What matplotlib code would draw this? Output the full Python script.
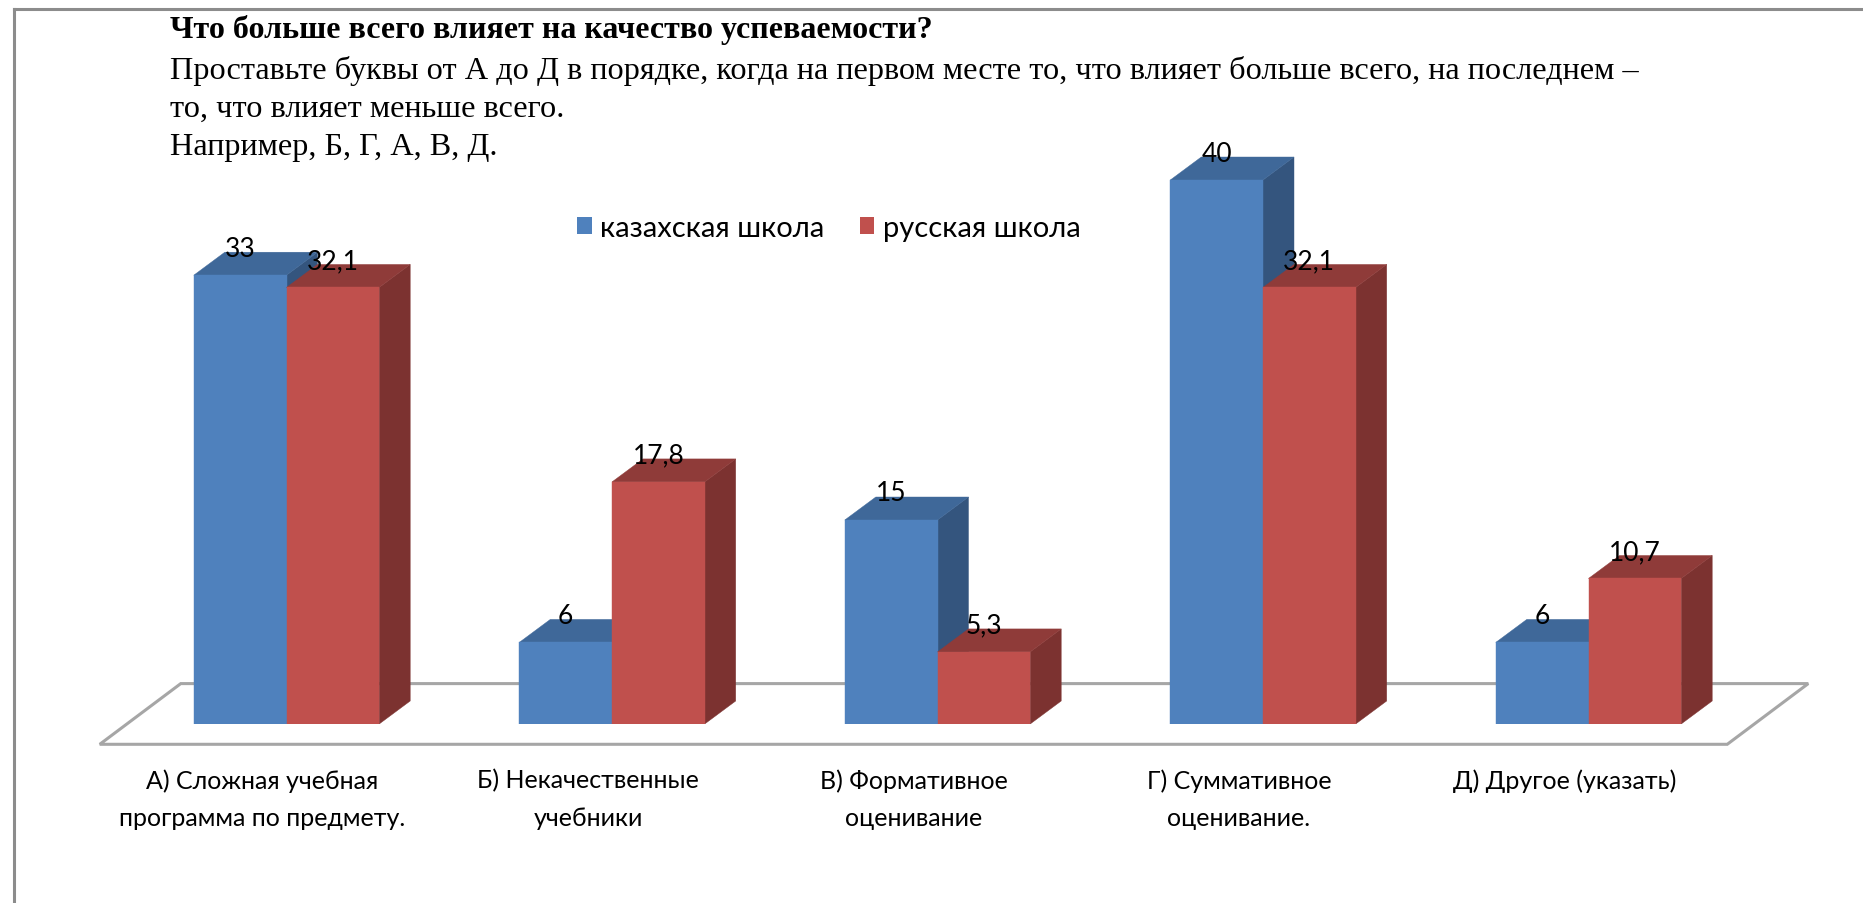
import matplotlib
matplotlib.use("Agg")
import matplotlib.pyplot as plt
from matplotlib.patches import Polygon, Patch
from matplotlib.lines import Line2D

# ---- data ----
categories = [
    "А) Сложная учебная\nпрограмма по предмету.",
    "Б) Некачественные\nучебники",
    "В) Формативное\nоценивание",
    "Г) Суммативное\nоценивание.",
    "Д) Другое (указать)",
]
series_names = ["казахская школа", "русская школа"]
kazakh_school = [33, 6, 15, 40, 6]
russian_school = [32.1, 17.8, 5.3, 32.1, 10.7]

title_bold = "Что больше всего влияет на качество успеваемости?"
title_lines = [
    "Проставьте буквы от А до Д в порядке, когда на первом месте то, что влияет больше всего, на последнем –",
    "то, что влияет меньше всего.",
    "Например, Б, Г, А, В, Д.",
]

# ---- style ----
face_colors = {
    "blue": ("#4F81BD", "#3F6899", "#34557E"),
    "red": ("#C0504D", "#8F3B39", "#7C3230"),
}
label_font = "Lato"
serif_font = "Liberation Serif"

W, H = 1863, 904
fig = plt.figure(figsize=(W / 100, H / 100), dpi=100)
fig.patch.set_facecolor("white")

# frame around the chart area (left and top edges visible)
fig.add_artist(Line2D([14 / W, 14 / W], [0, 1 - 9.5 / H], transform=fig.transFigure,
                      color="#8C8C8C", lw=2.2))
fig.add_artist(Line2D([14 / W, 1], [1 - 9.5 / H, 1 - 9.5 / H], transform=fig.transFigure,
                      color="#8C8C8C", lw=2.2))

# title block
fig.text(170 / W, 1 - 30 / H, title_bold, family=serif_font, fontsize=23, fontweight="bold",
         ha="left", va="center")
for k, line in enumerate(title_lines):
    fig.text(170 / W, 1 - (71 + 38 * k) / H, line, family=serif_font, fontsize=23.2,
             ha="left", va="center")

# plotting axes: value 0 sits on the floor line of the bars
px_per_unit = 13.6
base_px = 725
ymax = 45
ax = fig.add_axes([0, (H - base_px) / H, 1, ymax * px_per_unit / H])
ax.set_ylim(0, ymax)
group_px0, group_step = 286.5, 325.5
ax.set_xlim(-group_px0 / group_step, (W - group_px0) / group_step)
ax.axis("off")
ax.patch.set_alpha(0)


def px2data(dx, dy):
    return dx / group_step, dy / px_per_unit


bar_w = 92.7 / group_step
depth = px2data(31, 23)
front_off = px2data(-24, -20.3)
back_off = px2data(57, 40.4)
n = len(categories)

# floor
x_left, x_right = -0.5, n - 0.5
floor = Polygon([
    (x_left + front_off[0], front_off[1]),
    (x_right + front_off[0], front_off[1]),
    (x_right + back_off[0], back_off[1]),
    (x_left + back_off[0], back_off[1]),
], closed=True, facecolor="none", edgecolor="#A6A6A6", lw=2.2, zorder=1, clip_on=False)
ax.add_patch(floor)


def draw_bar(x0, h, colors):
    front, top, side = colors
    dx, dy = depth
    x1 = x0 + bar_w
    ax.add_patch(Polygon([(x1, 0), (x1 + dx, dy), (x1 + dx, h + dy), (x1, h)],
                         closed=True, facecolor=side, edgecolor=side, lw=0.3, zorder=2))
    ax.add_patch(Polygon([(x0, h), (x1, h), (x1 + dx, h + dy), (x0 + dx, h + dy)],
                         closed=True, facecolor=top, edgecolor=top, lw=0.3, zorder=2))
    ax.add_patch(Polygon([(x0, 0), (x1, 0), (x1, h), (x0, h)],
                         closed=True, facecolor=front, edgecolor=front, lw=0.3, zorder=2))


def fmt(v):
    return f"{v:g}".replace(".", ",")


for i in range(n):
    for x0, v, key in ((i - bar_w, kazakh_school[i], "blue"), (i, russian_school[i], "red")):
        draw_bar(x0, v, face_colors[key])
        ax.annotate(fmt(v), (x0 + bar_w / 2, v), xytext=(0, 27), textcoords="offset pixels",
                    ha="center", va="center", family=label_font, fontsize=19, zorder=5)
    ax.annotate(categories[i], (i + front_off[0], 0), xytext=(0, -44), textcoords="offset pixels",
                ha="center", va="top", family=label_font, fontsize=18, linespacing=1.75,
                annotation_clip=False)

# legend
handles = [Patch(facecolor=face_colors["blue"][0], edgecolor="none"),
           Patch(facecolor=face_colors["red"][0], edgecolor="none")]
fig.legend(handles, series_names, loc="center", bbox_to_anchor=(829 / W, 1 - 229 / H),
           ncol=2, frameon=False, prop={"family": label_font, "size": 21},
           handlelength=0.5, handleheight=0.5, handletextpad=0.3, columnspacing=1.2,
           borderpad=0, borderaxespad=0)

fig.savefig("out.png", dpi=100, facecolor="white")
